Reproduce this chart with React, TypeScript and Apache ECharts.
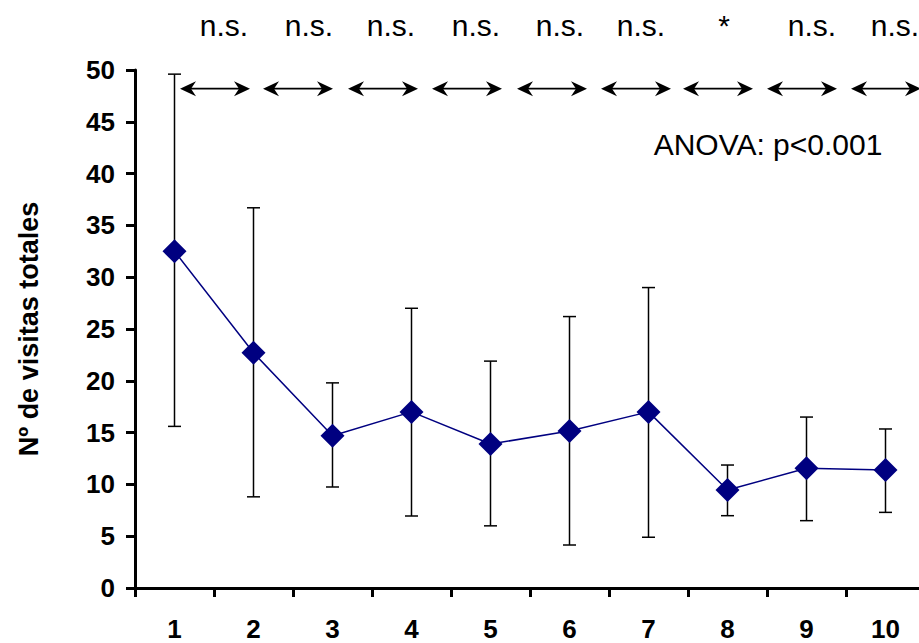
import React, { useEffect, useRef } from "react";
import * as echarts from "echarts";

const categories = ["1", "2", "3", "4", "5", "6", "7", "8", "9", "10"];
const means = [32.5, 22.7, 14.7, 17.0, 13.9, 15.15, 17.0, 9.46, 11.55, 11.4];
const upperErr = [49.6, 36.7, 19.8, 27.0, 21.9, 26.2, 29.0, 11.87, 16.5, 15.35];
const lowerErr = [15.6, 8.8, 9.75, 6.95, 6.0, 4.15, 4.9, 6.98, 6.5, 7.3];
const comparisonLabels = ["n.s.", "n.s.", "n.s.", "n.s.", "n.s.", "n.s.", "*", "n.s.", "n.s."];
const arrowLevel = 48.2;
const yTicks = [0, 5, 10, 15, 20, 25, 30, 35, 40, 45, 50];
const anovaText = "ANOVA: p<0.001";
const yTitle = "Nº de visitas totales";

// annotation layout (pixels): arrow left ends and label centres, as drawn in the figure
const arrowStarts = [180, 263, 348, 432, 517, 601, 683, 767, 851];
const arrowLength = 70;
const labelCentres = [224, 309, 391, 476, 560, 641, 724, 812, 895];

export default function App() {
  const ref = useRef<HTMLDivElement>(null);
  useEffect(() => {
    const chart = echarts.init(ref.current!, null, { renderer: "svg" });
    const errData = categories.map((_, i) => [i, lowerErr[i], upperErr[i]]);
    const font = "'Liberation Sans', Arial, sans-serif";
    chart.setOption({
      animation: false,
      backgroundColor: "#ffffff",
      textStyle: { fontFamily: font },
      grid: { left: 135, top: 70, width: 790, height: 518, outerBoundsMode: "none" },
      xAxis: {
        type: "category",
        data: categories,
        boundaryGap: true,
        axisLine: { lineStyle: { color: "#000", width: 3 } },
        axisTick: { show: true, length: 9, lineStyle: { color: "#000", width: 3 } },
        axisLabel: {
          color: "#000",
          fontWeight: "bold",
          fontSize: 26,
          lineHeight: 20,
          fontFamily: font,
          margin: 31,
        },
        splitLine: { show: false },
      },
      yAxis: {
        type: "value",
        min: yTicks[0],
        max: yTicks[yTicks.length - 1],
        interval: 5,
        name: yTitle,
        nameLocation: "middle",
        nameRotate: 90,
        nameGap: 93,
        nameTextStyle: { color: "#000", fontWeight: "bold", fontSize: 27, fontFamily: font },
        axisLine: { show: true, lineStyle: { color: "#000", width: 3 } },
        axisTick: { show: true, length: 9, lineStyle: { color: "#000", width: 3 } },
        axisLabel: { color: "#000", fontWeight: "bold", fontSize: 26, fontFamily: font, margin: 20 },
        splitLine: { show: false },
      },
      graphic: [
        ...comparisonLabels.map((t, i) => ({
          type: "text",
          x: labelCentres[i],
          y: 25,
          style: {
            text: t,
            fill: "#000",
            font: `30px ${font}`,
            textAlign: "center",
            textVerticalAlign: "middle",
          },
        })),
        {
          type: "text",
          x: 768,
          y: 144,
          style: {
            text: anovaText,
            fill: "#000",
            font: `30px ${font}`,
            textAlign: "center",
            textVerticalAlign: "middle",
          },
        },
      ],
      series: [
        {
          type: "custom",
          name: "error",
          data: errData,
          clip: false,
          z: 1,
          renderItem: (params: any, api: any) => {
            const x = api.value(0);
            const lo = api.coord([x, api.value(1)]);
            const hi = api.coord([x, api.value(2)]);
            const cw = 6.5;
            const st = { stroke: "#000", lineWidth: 1.5 };
            return {
              type: "group",
              children: [
                { type: "line", shape: { x1: lo[0], y1: lo[1], x2: hi[0], y2: hi[1] }, style: st },
                { type: "line", shape: { x1: lo[0] - cw, y1: lo[1], x2: lo[0] + cw, y2: lo[1] }, style: st },
                { type: "line", shape: { x1: hi[0] - cw, y1: hi[1], x2: hi[0] + cw, y2: hi[1] }, style: st },
              ],
            };
          },
        },
        {
          type: "line",
          data: means,
          symbol: "diamond",
          symbolSize: 24,
          z: 3,
          lineStyle: { color: "#000080", width: 1.5 },
          itemStyle: { color: "#000080" },
        },
        {
          type: "custom",
          name: "arrows",
          data: arrowStarts.map(() => [0, arrowLevel]),
          clip: false,
          z: 2,
          renderItem: (params: any, api: any) => {
            const idx = params.dataIndex;
            const yy = api.coord([0, api.value(1)])[1];
            const xa = arrowStarts[idx];
            const xb = xa + arrowLength;
            const hl = 16;
            const hw = 7.5;
            const notch = 11;
            return {
              type: "group",
              children: [
                {
                  type: "line",
                  shape: { x1: xa + 5, y1: yy, x2: xb - 5, y2: yy },
                  style: { stroke: "#000", lineWidth: 1.6 },
                },
                {
                  type: "polygon",
                  shape: {
                    points: [
                      [xa, yy],
                      [xa + hl, yy - hw],
                      [xa + notch, yy],
                      [xa + hl, yy + hw],
                    ],
                  },
                  style: { fill: "#000" },
                },
                {
                  type: "polygon",
                  shape: {
                    points: [
                      [xb, yy],
                      [xb - hl, yy - hw],
                      [xb - notch, yy],
                      [xb - hl, yy + hw],
                    ],
                  },
                  style: { fill: "#000" },
                },
              ],
            };
          },
        },
      ],
    });
    return () => chart.dispose();
  }, []);
  return (
    <div
      ref={ref}
      style={{ position: "fixed", left: 0, top: 0, width: 919, height: 643, background: "#fff" }}
    />
  );
}
